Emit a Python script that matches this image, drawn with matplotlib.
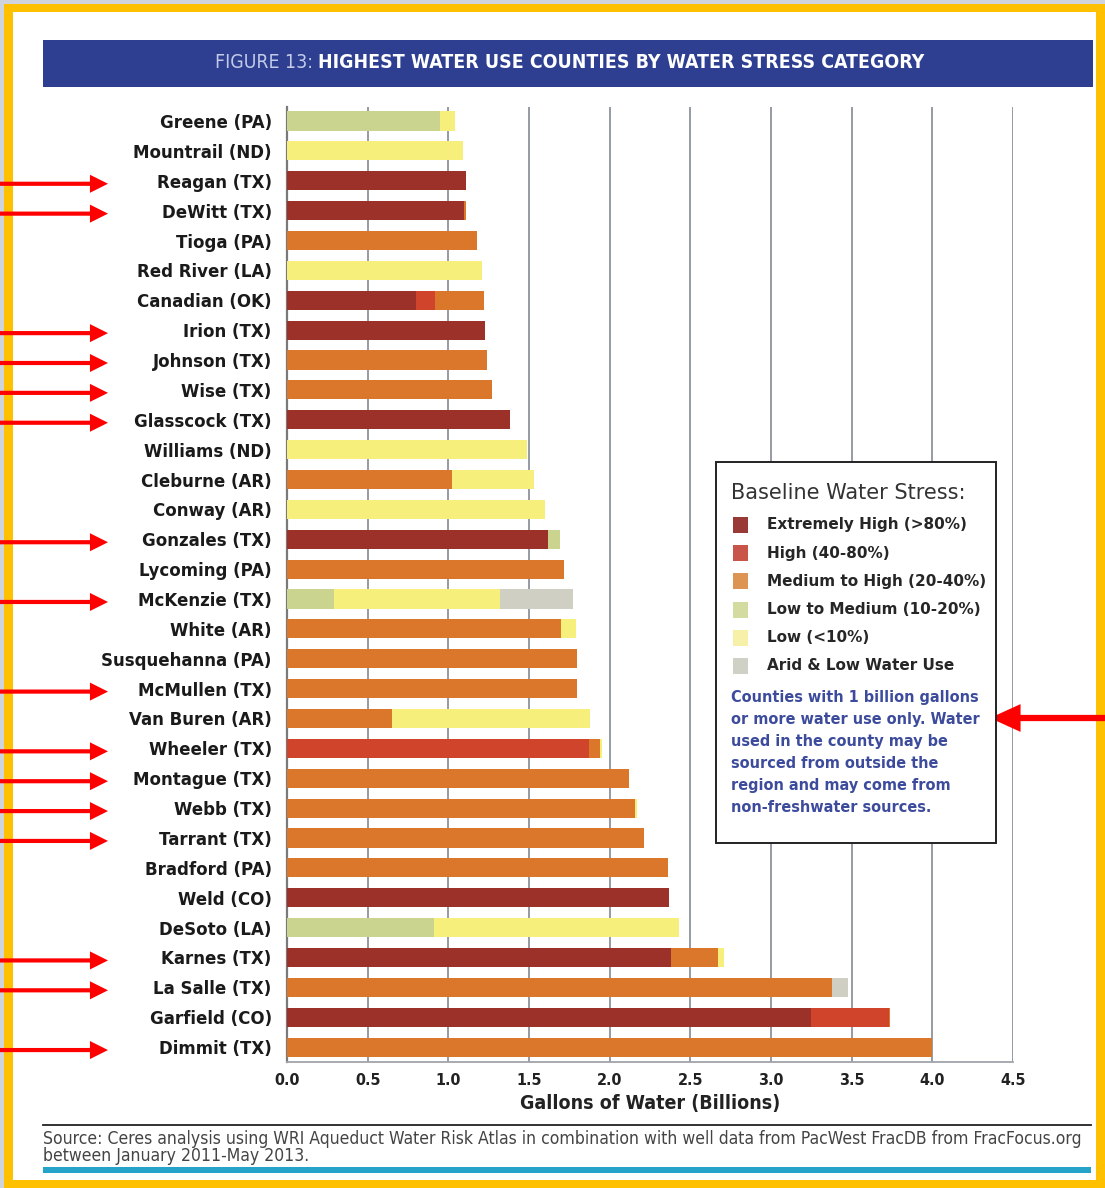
import matplotlib.pyplot as plt
import matplotlib.patches as mpatches
import matplotlib.lines as mlines
import numpy as np

counties = ['Greene (PA)', 'Mountrail (ND)', 'Reagan (TX)', 'DeWitt (TX)', 'Tioga (PA)',
            'Red River (LA)', 'Canadian (OK)', 'Irion (TX)', 'Johnson (TX)', 'Wise (TX)',
            'Glasscock (TX)', 'Williams (ND)', 'Cleburne (AR)', 'Conway (AR)', 'Gonzales (TX)',
            'Lycoming (PA)', 'McKenzie (TX)', 'White (AR)', 'Susquehanna (PA)', 'McMullen (TX)',
            'Van Buren (AR)', 'Wheeler (TX)', 'Montague (TX)', 'Webb (TX)', 'Tarrant (TX)',
            'Bradford (PA)', 'Weld (CO)', 'DeSoto (LA)', 'Karnes (TX)', 'La Salle (TX)',
            'Garfield (CO)', 'Dimmit (TX)']

# billions of gallons per stress category
extreme = [0, 0, 1.11, 1.10, 0, 0, 0.80, 1.23, 0, 0, 1.38, 0, 0, 0, 1.62, 0,
           0, 0, 0, 0, 0, 0, 0, 0, 0, 0, 2.37, 0, 2.38, 0, 3.25, 0]
high = [0, 0, 0, 0, 0, 0, 0.12, 0, 0, 0, 0, 0, 0, 0, 0, 0,
        0, 0, 0, 0, 0, 1.87, 0, 0, 0, 0, 0, 0, 0, 0, 0.48, 0]
medium = [0, 0, 0, 0.01, 1.18, 0, 0.30, 0, 1.24, 1.27, 0, 0, 1.02, 0, 0, 1.72,
          0, 1.70, 1.80, 1.80, 0.65, 0.07, 2.12, 2.16, 2.21, 2.36, 0, 0, 0.29, 3.38, 0.01, 4.00]
low_medium = [0.95, 0, 0, 0, 0, 0, 0, 0, 0, 0, 0, 0, 0, 0, 0.07, 0,
              0.29, 0, 0, 0, 0, 0, 0, 0, 0, 0, 0, 0.91, 0, 0, 0, 0]
low = [0.09, 1.09, 0, 0, 0, 1.21, 0, 0, 0, 0, 0, 1.49, 0.51, 1.60, 0, 0,
       1.03, 0.09, 0, 0, 1.23, 0.01, 0, 0.01, 0, 0, 0, 1.52, 0.04, 0, 0, 0]
arid = [0, 0, 0, 0, 0, 0, 0, 0, 0, 0, 0, 0, 0, 0, 0, 0,
        0.45, 0, 0, 0, 0, 0, 0, 0, 0, 0, 0, 0, 0, 0.10, 0, 0]

categories = ['Extremely High (>80%)', 'High (40-80%)', 'Medium to High (20-40%)',
              'Low to Medium (10-20%)', 'Low (<10%)', 'Arid & Low Water Use']
colors = ['#9b3129', '#d0442c', '#da772b', '#cbd48f', '#f7ef7c', '#cfcfc3']
legend_colors = ['#9a3a36', '#c9544a', '#dc9552', '#d3dba0', '#f7f0a8', '#cfd0c6']

xticks = [0.0, 0.5, 1.0, 1.5, 2.0, 2.5, 3.0, 3.5, 4.0, 4.5]

note = ('Counties with 1 billion gallons\nor more water use only. Water\nused in the county may be\n'
        'sourced from outside the\nregion and may come from\nnon-freshwater sources.')
source = ('Source: Ceres analysis using WRI Aqueduct Water Risk Atlas in combination with well data '
          'from PacWest FracDB from FracFocus.org\nbetween January 2011-May 2013.')

W, H = 1105, 1188
COND = dict(family='DejaVu Sans', fontstretch='condensed')


def fx(px):
    return px / W


def fy(py):
    return 1 - py / H


def frect(x0, y0, x1, y1, **kw):
    # rectangle given in picture pixels (top-left origin)
    fig.patches.append(mpatches.Rectangle((fx(x0), fy(y1)), fx(x1 - x0), fy(y0) - fy(y1),
                                          transform=fig.transFigure, **kw))


def text_width(t):
    return t.get_window_extent(fig.canvas.get_renderer()).width


def fit(t, width_px):
    t.set_fontsize(t.get_fontsize() * width_px / text_width(t))


fig = plt.figure(figsize=(W / 100, H / 100), dpi=100)

# outer frame: gray strip on top, yellow border
frect(0, 0, W, H, facecolor='#cfd3dc', edgecolor='none', zorder=-3)
frect(4, 4, 1105, 1188, facecolor='#ffc000', edgecolor='none', zorder=-2)
frect(13, 12, 1096, 1180, facecolor='white', edgecolor='none', zorder=-1)

# title bar
frect(43, 40, 1093, 87, facecolor='#2e3f92', edgecolor='none', zorder=1)
t1 = fig.text(fx(215), fy(63), 'FIGURE 13: ', color='#c3cbe8', fontsize=19,
              va='center', ha='left', **COND)
t2 = fig.text(0, fy(63), 'HIGHEST WATER USE COUNTIES BY WATER STRESS CATEGORY',
              color='white', fontsize=19, fontweight='bold', va='center', ha='left', **COND)
fig.canvas.draw()
k = 707 / (text_width(t1) + text_width(t2))
t1.set_fontsize(19 * k)
t2.set_fontsize(19 * k)
t2.set_x(fx(215) + text_width(t1) / W)

ax = fig.add_axes([fx(287), fy(1062), fx(1013) - fx(287), fy(107) - fy(1062)])
y = np.arange(len(counties))
left = np.zeros(len(counties))
for vals, col in zip([extreme, high, medium, low_medium, low, arid], colors):
    ax.barh(y, vals, left=left, height=0.64, color=col, edgecolor='none', zorder=3)
    left = left + np.array(vals)

ax.set_xlim(0, 4.5)
ax.set_ylim(31.5, -0.47)
ax.set_yticks(y)
ax.set_yticklabels(counties, fontsize=12, fontweight='bold', color='#1a1a1a')
ax.set_xticks(xticks)
ax.set_xticklabels(['%.1f' % v for v in xticks], fontsize=11.5, fontweight='bold',
                   color='#222222', **COND)
ax.tick_params(axis='y', length=0, pad=11)
ax.tick_params(axis='x', length=0, pad=8)
ax.xaxis.grid(True, color='#8d929c', linewidth=1.3, zorder=0)
ax.set_axisbelow(True)
for s in ['top', 'right']:
    ax.spines[s].set_visible(False)
ax.spines['left'].set_color('#7a7a7a')
ax.spines['left'].set_linewidth(1.6)
ax.spines['bottom'].set_color('#a0a4aa')
ax.spines['bottom'].set_linewidth(1.3)
ax.set_xlabel('Gallons of Water (Billions)', fontsize=14, fontweight='bold',
              color='#222222', labelpad=4, **COND)

# legend box
frect(716, 462, 996, 843, facecolor='white', edgecolor='#222222', linewidth=1.4, zorder=5)
fig.text(fx(731), fy(493), 'Baseline Water Stress:', fontsize=15, color='#333333',
         va='center', ha='left', zorder=6)
for i, (lab, col) in enumerate(zip(categories, legend_colors)):
    yy = 525 + i * 28.2
    frect(733, yy - 8, 748, yy + 8, facecolor=col, edgecolor='none', zorder=6)
    fig.text(fx(767), fy(yy), lab, fontsize=11, fontweight='bold', color='#262626',
             va='center', ha='left', zorder=6)
tn = fig.text(fx(731), fy(690), note, fontsize=14, fontweight='bold', color='#3d4b9c',
              va='top', ha='left', linespacing=1.1, zorder=6, **COND)
fit(tn, 250)
tn.set_linespacing(22.4 / (tn.get_fontsize() * 100 / 72 * 1.2) * 1.2 * 1.14)

# red arrows pointing at Texas counties
for i, c in enumerate(counties):
    if '(TX)' in c:
        ax.annotate('', xy=(108, i + 0.1), xycoords=('figure pixels', 'data'),
                    xytext=(-2, i + 0.1), textcoords=('figure pixels', 'data'),
                    arrowprops=dict(width=3, headwidth=13, headlength=13, shrink=0,
                                    color='#ff0000', linewidth=0))
ax.annotate('', xy=(990, H - 718), xycoords='figure pixels',
            xytext=(1107, H - 718), textcoords='figure pixels',
            arrowprops=dict(width=4.5, headwidth=20, headlength=22, shrink=0,
                            color='#ff0000', linewidth=0))

# source and bottom rules
fig.lines.append(mlines.Line2D([fx(43), fx(1091)], [fy(1125), fy(1125)],
                               transform=fig.transFigure, color='#222222', linewidth=1.3))
ts = fig.text(fx(43), fy(1130), source, fontsize=11, color='#444444', va='top', ha='left',
              linespacing=0.9, **COND)
fit(ts, 1045)
frect(43, 1167, 1091, 1173, facecolor='#25a3c9', edgecolor='none')

plt.savefig('out.png', dpi=100)
